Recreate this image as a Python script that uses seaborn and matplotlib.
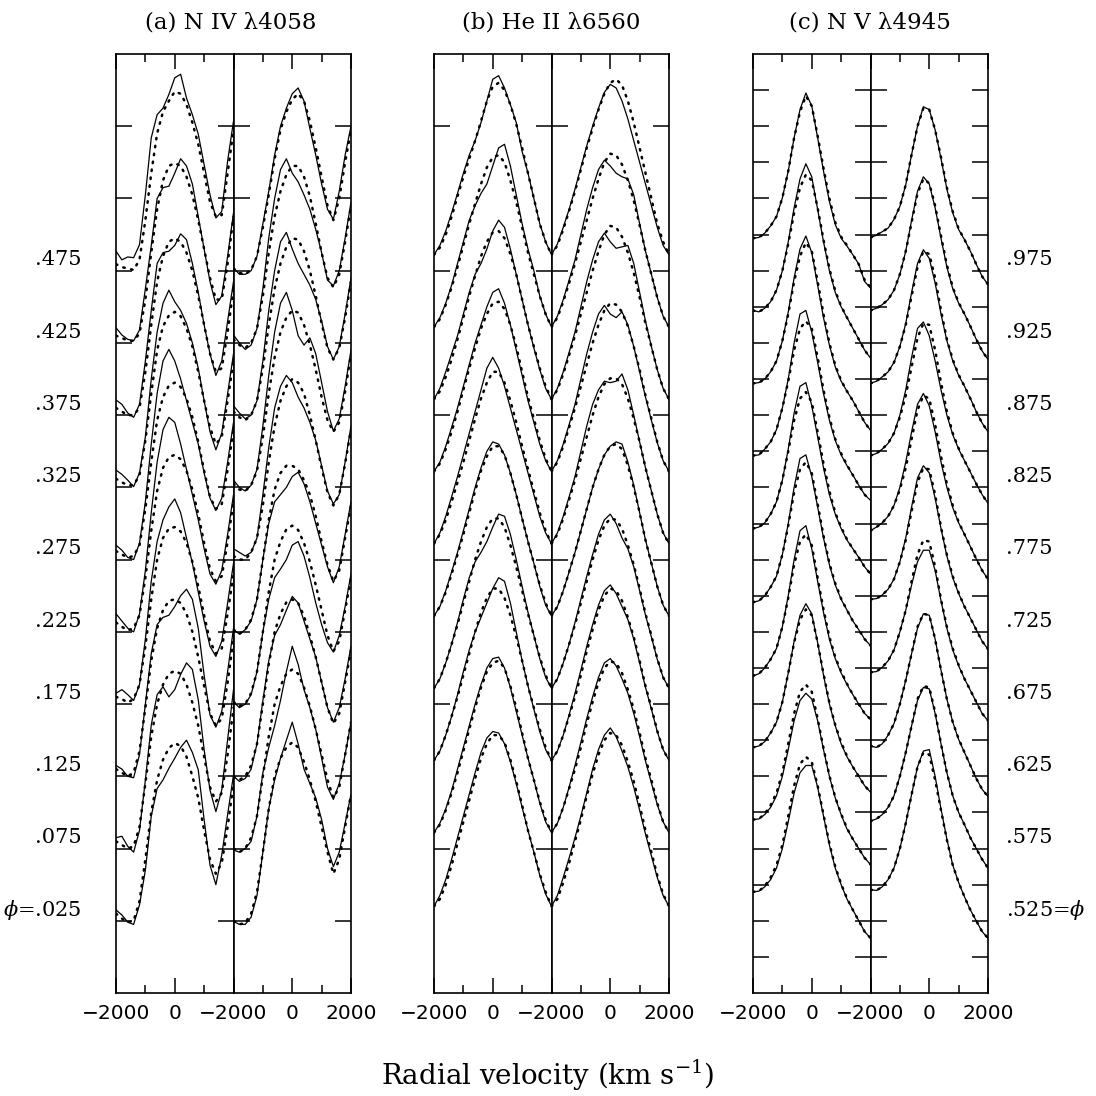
import numpy as np
import pandas as pd
import matplotlib
matplotlib.use("Agg")
import matplotlib.pyplot as plt
import seaborn as sns
from matplotlib.ticker import FixedLocator

# ---------------- data (profile heights above each spectrum's baseline) -------------
VELOCITY = [-2000, -1800, -1600, -1400, -1200, -1000, -800, -600, -400, -200, 0,
            200, 400, 600, 800, 1000, 1200, 1400, 1600, 1800, 2000]

PHASES_LEFT = [".025", ".075", ".125", ".175", ".225", ".275", ".325", ".375", ".425", ".475"]
PHASES_RIGHT = [".525", ".575", ".625", ".675", ".725", ".775", ".825", ".875", ".925", ".975"]

TITLES = ["(a) N IV λ4058", "(b) He II λ6560", "(c) N V λ4945"]
VEL_TICKS = [-2000, 0, 2000]
VEL_LABELS_LEFT = ["−2000", "0", ""]
VEL_LABELS_RIGHT = ["−2000", "0", "2000"]

# Panel (a) N IV 4058 -- left column (phases .025-.475), observed
A_L_OBS = [
    [0.0, -0.07, -0.17, -0.2, 0.07, 0.55, 1.3, 1.68, 1.8, 1.96, 2.1, 2.25, 2.35, 2.18, 1.94, 1.25, 0.62, 0.35, 0.76, 1.32, 1.87],
    [0.0, 0.02, -0.12, -0.2, 0.1, 0.8, 1.56, 1.98, 2.09, 1.95, 2.05, 2.26, 2.42, 2.33, 1.91, 1.22, 0.66, 0.36, 0.66, 1.36, 2.05],
    [0.0, -0.05, -0.15, -0.17, 0.15, 0.85, 1.55, 1.95, 2.05, 2.08, 2.2, 2.35, 2.44, 2.3, 1.9, 1.25, 0.7, 0.53, 0.75, 1.3, 1.9],
    [0.0, 0.05, -0.02, -0.1, 0.12, 0.75, 1.55, 2.1, 2.4, 2.58, 2.69, 2.5, 2.15, 1.8, 1.4, 1.0, 0.65, 0.51, 0.72, 1.25, 1.8],
    [0.1, 0.0, -0.1, -0.15, 0.1, 0.7, 1.5, 2.2, 2.65, 2.82, 2.75, 2.45, 2.1, 1.75, 1.4, 1.0, 0.65, 0.51, 0.7, 1.2, 1.75],
    [0.05, -0.02, -0.12, -0.15, 0.08, 0.65, 1.45, 2.15, 2.6, 2.76, 2.6, 2.35, 2.05, 1.75, 1.45, 1.05, 0.7, 0.53, 0.7, 1.2, 1.75],
    [0.09, 0.03, -0.05, -0.14, 0.05, 0.55, 1.35, 2.0, 2.4, 2.58, 2.42, 2.3, 2.12, 1.85, 1.5, 1.05, 0.62, 0.37, 0.6, 1.15, 1.7],
    [0.06, 0.0, -0.12, -0.18, 0.0, 0.6, 1.3, 1.95, 2.1, 2.12, 2.2, 2.36, 2.28, 1.95, 1.55, 1.1, 0.7, 0.4, 0.6, 1.15, 1.7],
    [0.06, -0.04, -0.1, -0.12, 0.03, 0.6, 1.2, 1.85, 2.0, 2.02, 2.2, 2.4, 2.3, 2.05, 1.6, 1.15, 0.7, 0.38, 0.5, 1.05, 1.65],
    [0.12, 0.0, 0.04, 0.03, 0.21, 0.9, 1.69, 2.01, 2.1, 2.29, 2.52, 2.57, 2.24, 2.01, 1.74, 1.32, 0.9, 0.58, 0.67, 1.37, 1.92],
]
A_L_MOD = [
    [-0.05, -0.12, -0.17, -0.15, 0.12, 0.7, 1.35, 1.8, 2.08, 2.24, 2.31, 2.27, 2.12, 1.85, 1.55, 1.1, 0.7, 0.5, 0.65, 1.15, 1.75],
    [-0.05, -0.1, -0.15, -0.12, 0.15, 0.75, 1.4, 1.85, 2.12, 2.27, 2.31, 2.27, 2.12, 1.87, 1.55, 1.12, 0.7, 0.5, 0.62, 1.15, 1.8],
    [-0.05, -0.1, -0.15, -0.1, 0.2, 0.8, 1.45, 1.9, 2.15, 2.28, 2.3, 2.25, 2.1, 1.85, 1.5, 1.1, 0.72, 0.55, 0.65, 1.15, 1.75],
    [-0.05, -0.08, -0.13, -0.08, 0.12, 0.65, 1.3, 1.85, 2.15, 2.28, 2.3, 2.24, 2.08, 1.82, 1.48, 1.08, 0.72, 0.55, 0.62, 1.1, 1.65],
    [-0.02, -0.08, -0.13, -0.1, 0.08, 0.6, 1.25, 1.8, 2.12, 2.27, 2.3, 2.24, 2.08, 1.82, 1.48, 1.08, 0.72, 0.55, 0.62, 1.1, 1.65],
    [-0.03, -0.08, -0.12, -0.1, 0.05, 0.55, 1.2, 1.78, 2.1, 2.26, 2.3, 2.24, 2.08, 1.82, 1.48, 1.08, 0.72, 0.55, 0.62, 1.1, 1.65],
    [-0.03, -0.08, -0.12, -0.12, 0.02, 0.5, 1.15, 1.75, 2.08, 2.23, 2.28, 2.22, 2.05, 1.8, 1.45, 1.05, 0.68, 0.45, 0.55, 1.05, 1.6],
    [-0.05, -0.1, -0.15, -0.15, -0.05, 0.45, 1.1, 1.7, 2.05, 2.25, 2.3, 2.25, 2.1, 1.85, 1.5, 1.1, 0.7, 0.45, 0.5, 1.0, 1.6],
    [-0.05, -0.08, -0.12, -0.12, -0.02, 0.45, 1.1, 1.7, 2.1, 2.3, 2.34, 2.3, 2.15, 1.9, 1.55, 1.15, 0.75, 0.45, 0.45, 0.95, 1.6],
    [-0.06, -0.1, -0.12, -0.14, 0.0, 0.55, 1.2, 1.75, 2.05, 2.2, 2.33, 2.3, 2.15, 1.9, 1.6, 1.2, 0.8, 0.6, 0.62, 1.2, 1.8],
]
# Panel (a) -- right column (phases .525-.975)
A_R_OBS = [
    [-0.16, -0.2, -0.2, -0.1, 0.2, 0.8, 1.4, 1.8, 2.1, 2.35, 2.6, 2.3, 1.95, 1.75, 1.55, 1.25, 0.85, 0.6, 0.8, 1.2, 1.6],
    [-0.17, -0.2, -0.15, -0.05, 0.3, 0.9, 1.25, 1.55, 1.9, 2.3, 2.65, 2.4, 2.05, 1.8, 1.5, 1.1, 0.7, 0.53, 0.75, 1.15, 1.6],
    [-0.15, -0.22, -0.18, -0.05, 0.3, 0.9, 1.45, 1.8, 1.95, 2.15, 2.34, 2.25, 2.0, 1.75, 1.5, 1.15, 0.8, 0.6, 0.8, 1.2, 1.65],
    [-0.12, -0.2, -0.15, -0.02, 0.3, 0.85, 1.3, 1.6, 1.72, 1.85, 2.05, 2.1, 1.9, 1.6, 1.25, 0.95, 0.7, 0.57, 0.8, 1.2, 1.65],
    [-0.12, -0.18, -0.12, 0.0, 0.3, 0.85, 1.35, 1.65, 1.75, 1.85, 2.0, 2.06, 1.9, 1.65, 1.35, 1.05, 0.75, 0.53, 0.75, 1.2, 1.65],
    [0.0, -0.05, -0.1, -0.05, 0.15, 0.75, 1.4, 1.95, 2.25, 2.4, 2.3, 2.1, 1.95, 1.75, 1.5, 1.15, 0.8, 0.62, 0.75, 1.2, 1.7],
    [-0.05, -0.15, -0.2, -0.12, 0.1, 0.7, 1.4, 2.0, 2.4, 2.55, 2.3, 1.95, 1.82, 1.92, 1.7, 1.3, 0.9, 0.63, 0.8, 1.25, 1.75],
    [-0.02, -0.12, -0.2, -0.15, 0.05, 0.6, 1.3, 1.85, 2.25, 2.38, 2.15, 1.95, 1.8, 1.65, 1.45, 1.15, 0.8, 0.62, 0.8, 1.25, 1.75],
    [-0.04, -0.15, -0.24, -0.18, 0.05, 0.6, 1.3, 1.85, 2.25, 2.4, 2.2, 2.08, 1.9, 1.7, 1.42, 1.1, 0.72, 0.64, 0.85, 1.3, 1.8],
    [-0.11, -0.2, -0.2, -0.15, 0.05, 0.5, 0.95, 1.45, 1.85, 2.1, 2.3, 2.38, 2.2, 1.82, 1.45, 1.05, 0.7, 0.56, 0.95, 1.45, 1.85],
]
A_R_MOD = [
    [-0.15, -0.2, -0.18, -0.05, 0.25, 0.8, 1.4, 1.85, 2.1, 2.25, 2.32, 2.25, 2.05, 1.8, 1.5, 1.15, 0.8, 0.5, 0.7, 1.15, 1.6],
    [-0.15, -0.2, -0.15, 0.0, 0.3, 0.85, 1.4, 1.85, 2.1, 2.27, 2.33, 2.27, 2.08, 1.82, 1.5, 1.15, 0.8, 0.55, 0.7, 1.15, 1.6],
    [-0.15, -0.2, -0.15, 0.0, 0.3, 0.85, 1.4, 1.85, 2.1, 2.26, 2.3, 2.25, 2.07, 1.8, 1.5, 1.15, 0.8, 0.58, 0.72, 1.15, 1.6],
    [-0.12, -0.18, -0.15, 0.0, 0.3, 0.85, 1.4, 1.85, 2.1, 2.27, 2.32, 2.26, 2.08, 1.82, 1.5, 1.15, 0.8, 0.58, 0.72, 1.15, 1.6],
    [-0.12, -0.18, -0.12, 0.02, 0.3, 0.85, 1.4, 1.82, 2.05, 2.15, 2.15, 2.1, 1.95, 1.75, 1.45, 1.1, 0.78, 0.55, 0.7, 1.15, 1.6],
    [-0.1, -0.15, -0.15, -0.05, 0.15, 0.6, 1.2, 1.7, 2.05, 2.25, 2.35, 2.3, 2.15, 1.85, 1.5, 1.12, 0.78, 0.6, 0.75, 1.18, 1.65],
    [-0.1, -0.18, -0.2, -0.12, 0.08, 0.55, 1.15, 1.65, 2.0, 2.2, 2.3, 2.27, 2.1, 1.82, 1.48, 1.1, 0.78, 0.62, 0.75, 1.18, 1.7],
    [-0.1, -0.18, -0.22, -0.15, 0.05, 0.5, 1.1, 1.6, 1.95, 2.18, 2.3, 2.28, 2.12, 1.85, 1.5, 1.12, 0.78, 0.62, 0.78, 1.2, 1.7],
    [-0.1, -0.18, -0.22, -0.15, 0.05, 0.5, 1.1, 1.6, 1.95, 2.18, 2.3, 2.3, 2.15, 1.88, 1.5, 1.1, 0.75, 0.62, 0.8, 1.25, 1.75],
    [-0.12, -0.18, -0.2, -0.14, 0.05, 0.45, 0.9, 1.4, 1.8, 2.05, 2.22, 2.3, 2.2, 1.92, 1.55, 1.15, 0.75, 0.55, 0.85, 1.35, 1.8],
]

# Panel (b) He II 6560 -- left column
B_L_OBS = [
    [0.05, 0.2, 0.42, 0.7, 1.0, 1.3, 1.6, 1.9, 2.18, 2.38, 2.47, 2.45, 2.3, 2.05, 1.75, 1.42, 1.1, 0.8, 0.48, 0.22, 0.05],
    [0.07, 0.2, 0.4, 0.65, 0.95, 1.25, 1.55, 1.85, 2.12, 2.35, 2.48, 2.5, 2.35, 2.08, 1.75, 1.42, 1.1, 0.8, 0.48, 0.22, 0.07],
    [0.07, 0.2, 0.42, 0.68, 0.98, 1.3, 1.6, 1.85, 2.05, 2.25, 2.45, 2.6, 2.55, 2.25, 1.85, 1.45, 1.1, 0.78, 0.47, 0.22, 0.07],
    [0.07, 0.2, 0.42, 0.68, 0.98, 1.3, 1.6, 1.82, 1.95, 2.1, 2.3, 2.48, 2.45, 2.2, 1.85, 1.48, 1.12, 0.8, 0.48, 0.22, 0.07],
    [0.07, 0.2, 0.42, 0.68, 0.95, 1.25, 1.55, 1.85, 2.12, 2.35, 2.48, 2.45, 2.3, 2.05, 1.75, 1.42, 1.1, 0.8, 0.48, 0.22, 0.07],
    [0.07, 0.22, 0.45, 0.72, 1.0, 1.3, 1.6, 1.9, 2.2, 2.5, 2.65, 2.5, 2.25, 1.95, 1.65, 1.35, 1.05, 0.75, 0.45, 0.22, 0.07],
    [0.07, 0.2, 0.42, 0.68, 0.95, 1.25, 1.55, 1.85, 2.1, 2.35, 2.55, 2.6, 2.4, 2.1, 1.75, 1.4, 1.05, 0.75, 0.45, 0.22, 0.07],
    [0.07, 0.22, 0.45, 0.7, 0.95, 1.25, 1.55, 1.8, 1.95, 2.15, 2.4, 2.55, 2.45, 2.15, 1.8, 1.45, 1.1, 0.78, 0.48, 0.22, 0.07],
    [0.07, 0.2, 0.4, 0.65, 0.95, 1.25, 1.55, 1.75, 1.92, 2.05, 2.3, 2.55, 2.6, 2.3, 1.9, 1.5, 1.15, 0.85, 0.5, 0.25, 0.07],
    [0.07, 0.2, 0.4, 0.65, 0.92, 1.2, 1.45, 1.65, 1.9, 2.2, 2.5, 2.55, 2.38, 2.15, 1.9, 1.5, 1.2, 0.85, 0.5, 0.25, 0.07],
]
B_L_MOD = [
    [0.05, 0.15, 0.35, 0.62, 0.92, 1.22, 1.52, 1.82, 2.1, 2.3, 2.42, 2.42, 2.32, 2.08, 1.78, 1.45, 1.1, 0.8, 0.5, 0.25, 0.05],
    [0.07, 0.18, 0.38, 0.62, 0.9, 1.2, 1.5, 1.8, 2.08, 2.3, 2.42, 2.45, 2.35, 2.1, 1.8, 1.45, 1.1, 0.8, 0.5, 0.25, 0.07],
    [0.07, 0.2, 0.42, 0.68, 0.95, 1.25, 1.55, 1.85, 2.12, 2.32, 2.45, 2.45, 2.32, 2.08, 1.78, 1.45, 1.1, 0.8, 0.5, 0.25, 0.07],
    [0.07, 0.2, 0.42, 0.68, 0.95, 1.25, 1.55, 1.85, 2.1, 2.3, 2.42, 2.42, 2.3, 2.05, 1.75, 1.42, 1.1, 0.8, 0.5, 0.25, 0.07],
    [0.07, 0.2, 0.4, 0.65, 0.92, 1.2, 1.5, 1.8, 2.08, 2.28, 2.42, 2.42, 2.3, 2.05, 1.75, 1.42, 1.1, 0.8, 0.5, 0.25, 0.07],
    [0.07, 0.2, 0.4, 0.65, 0.92, 1.2, 1.5, 1.8, 2.08, 2.3, 2.45, 2.45, 2.3, 2.05, 1.75, 1.42, 1.1, 0.8, 0.5, 0.25, 0.07],
    [0.07, 0.18, 0.38, 0.62, 0.9, 1.2, 1.5, 1.78, 2.05, 2.25, 2.4, 2.42, 2.32, 2.1, 1.8, 1.45, 1.1, 0.8, 0.5, 0.25, 0.07],
    [0.07, 0.18, 0.38, 0.62, 0.9, 1.2, 1.5, 1.78, 2.05, 2.25, 2.38, 2.4, 2.3, 2.08, 1.8, 1.45, 1.1, 0.8, 0.5, 0.25, 0.07],
    [0.07, 0.18, 0.38, 0.62, 0.9, 1.2, 1.5, 1.78, 2.05, 2.28, 2.42, 2.45, 2.35, 2.1, 1.8, 1.45, 1.1, 0.8, 0.5, 0.25, 0.07],
    [0.07, 0.17, 0.35, 0.6, 0.88, 1.15, 1.4, 1.65, 1.92, 2.2, 2.4, 2.45, 2.35, 2.15, 1.88, 1.55, 1.2, 0.85, 0.5, 0.25, 0.07],
]
# Panel (b) -- right column
B_R_OBS = [
    [0.05, 0.2, 0.45, 0.72, 1.0, 1.3, 1.62, 1.95, 2.22, 2.42, 2.52, 2.4, 2.2, 1.98, 1.7, 1.38, 1.05, 0.75, 0.45, 0.2, 0.05],
    [0.07, 0.2, 0.42, 0.7, 1.0, 1.32, 1.65, 1.95, 2.22, 2.42, 2.48, 2.38, 2.2, 2.0, 1.72, 1.4, 1.06, 0.76, 0.46, 0.22, 0.07],
    [0.07, 0.2, 0.42, 0.7, 1.0, 1.32, 1.65, 1.95, 2.22, 2.42, 2.5, 2.38, 2.2, 2.02, 1.75, 1.42, 1.08, 0.78, 0.47, 0.22, 0.07],
    [0.07, 0.2, 0.42, 0.68, 0.98, 1.3, 1.62, 1.92, 2.2, 2.4, 2.48, 2.35, 2.15, 2.0, 1.75, 1.42, 1.08, 0.78, 0.47, 0.22, 0.07],
    [0.07, 0.2, 0.42, 0.68, 0.95, 1.25, 1.55, 1.85, 2.1, 2.3, 2.42, 2.48, 2.45, 2.2, 1.88, 1.5, 1.12, 0.8, 0.48, 0.22, 0.07],
    [0.07, 0.22, 0.45, 0.72, 1.0, 1.35, 1.7, 2.0, 2.2, 2.32, 2.3, 2.32, 2.42, 2.2, 1.85, 1.48, 1.12, 0.8, 0.48, 0.22, 0.07],
    [0.07, 0.22, 0.45, 0.72, 1.0, 1.35, 1.7, 2.0, 2.25, 2.37, 2.25, 2.2, 2.28, 2.1, 1.8, 1.45, 1.1, 0.78, 0.47, 0.22, 0.07],
    [0.07, 0.22, 0.45, 0.72, 1.0, 1.35, 1.7, 2.0, 2.25, 2.37, 2.25, 2.16, 2.18, 2.2, 1.95, 1.55, 1.15, 0.8, 0.48, 0.22, 0.07],
    [0.07, 0.22, 0.45, 0.72, 1.0, 1.35, 1.7, 2.0, 2.25, 2.38, 2.3, 2.2, 2.15, 2.12, 1.9, 1.5, 1.12, 0.8, 0.48, 0.22, 0.07],
    [0.07, 0.22, 0.45, 0.7, 0.98, 1.28, 1.58, 1.85, 2.1, 2.32, 2.43, 2.38, 2.2, 1.95, 1.65, 1.35, 1.05, 0.75, 0.45, 0.2, 0.07],
]
B_R_MOD = [
    [0.05, 0.15, 0.38, 0.65, 0.95, 1.25, 1.58, 1.88, 2.15, 2.35, 2.45, 2.42, 2.28, 2.05, 1.78, 1.45, 1.1, 0.8, 0.48, 0.22, 0.05],
    [0.07, 0.2, 0.42, 0.68, 0.95, 1.25, 1.58, 1.88, 2.15, 2.35, 2.44, 2.42, 2.28, 2.05, 1.78, 1.45, 1.1, 0.8, 0.48, 0.22, 0.07],
    [0.07, 0.2, 0.42, 0.68, 0.95, 1.25, 1.58, 1.88, 2.15, 2.35, 2.45, 2.42, 2.28, 2.05, 1.78, 1.45, 1.1, 0.8, 0.48, 0.22, 0.07],
    [0.07, 0.2, 0.42, 0.68, 0.95, 1.25, 1.55, 1.85, 2.12, 2.32, 2.42, 2.4, 2.28, 2.05, 1.78, 1.45, 1.1, 0.8, 0.48, 0.22, 0.07],
    [0.07, 0.2, 0.42, 0.68, 0.95, 1.25, 1.55, 1.85, 2.1, 2.3, 2.42, 2.45, 2.38, 2.15, 1.85, 1.5, 1.12, 0.8, 0.48, 0.22, 0.07],
    [0.07, 0.2, 0.42, 0.68, 0.95, 1.25, 1.55, 1.85, 2.1, 2.28, 2.36, 2.36, 2.28, 2.08, 1.8, 1.48, 1.12, 0.8, 0.48, 0.22, 0.07],
    [0.07, 0.2, 0.42, 0.68, 0.95, 1.25, 1.55, 1.85, 2.1, 2.3, 2.4, 2.38, 2.28, 2.08, 1.8, 1.48, 1.12, 0.8, 0.48, 0.22, 0.07],
    [0.07, 0.2, 0.42, 0.68, 0.95, 1.25, 1.55, 1.85, 2.12, 2.35, 2.47, 2.45, 2.32, 2.1, 1.82, 1.48, 1.12, 0.8, 0.48, 0.22, 0.07],
    [0.07, 0.2, 0.42, 0.68, 0.95, 1.25, 1.55, 1.85, 2.12, 2.35, 2.47, 2.45, 2.32, 2.1, 1.82, 1.48, 1.12, 0.8, 0.48, 0.22, 0.07],
    [0.07, 0.2, 0.42, 0.68, 0.95, 1.25, 1.55, 1.82, 2.08, 2.3, 2.45, 2.5, 2.42, 2.2, 1.9, 1.55, 1.2, 0.85, 0.5, 0.25, 0.07],
]

# Panel (c) N V 4945 -- left column
C_L_OBS = [
    [0.25, 0.26, 0.32, 0.42, 0.58, 0.85, 1.22, 1.62, 1.9, 2.0, 2.0, 1.7, 1.3, 0.9, 0.58, 0.35, 0.15, 0.0, -0.15, -0.3, -0.39],
    [0.25, 0.26, 0.32, 0.42, 0.58, 0.85, 1.22, 1.62, 1.9, 2.0, 1.92, 1.62, 1.22, 0.85, 0.55, 0.32, 0.12, -0.02, -0.15, -0.28, -0.37],
    [0.25, 0.27, 0.33, 0.45, 0.6, 0.88, 1.28, 1.72, 2.08, 2.24, 2.1, 1.7, 1.25, 0.85, 0.55, 0.3, 0.12, -0.02, -0.15, -0.28, -0.37],
    [0.24, 0.27, 0.35, 0.47, 0.62, 0.92, 1.35, 1.85, 2.25, 2.32, 2.0, 1.55, 1.12, 0.75, 0.48, 0.28, 0.12, -0.02, -0.15, -0.28, -0.36],
    [0.26, 0.28, 0.35, 0.47, 0.62, 0.92, 1.35, 1.85, 2.25, 2.3, 2.0, 1.58, 1.15, 0.78, 0.5, 0.3, 0.15, 0.0, -0.12, -0.25, -0.34],
    [0.28, 0.3, 0.36, 0.48, 0.65, 0.95, 1.38, 1.88, 2.25, 2.3, 1.98, 1.55, 1.12, 0.75, 0.48, 0.28, 0.12, 0.0, -0.12, -0.25, -0.35],
    [0.29, 0.3, 0.38, 0.48, 0.65, 0.95, 1.35, 1.85, 2.25, 2.3, 2.0, 1.58, 1.15, 0.78, 0.5, 0.3, 0.15, 0.02, -0.12, -0.25, -0.33],
    [0.29, 0.3, 0.35, 0.45, 0.6, 0.88, 1.28, 1.75, 2.15, 2.33, 2.1, 1.65, 1.2, 0.82, 0.52, 0.32, 0.18, 0.05, -0.1, -0.25, -0.36],
    [0.3, 0.28, 0.33, 0.42, 0.58, 0.85, 1.25, 1.72, 2.12, 2.33, 2.15, 1.7, 1.25, 0.85, 0.55, 0.35, 0.2, 0.05, -0.1, -0.25, -0.36],
    [0.3, 0.31, 0.37, 0.47, 0.6, 0.86, 1.23, 1.69, 2.08, 2.31, 2.13, 1.69, 1.23, 0.81, 0.49, 0.3, 0.19, 0.07, -0.06, -0.3, -0.39],
]
C_L_MOD = [
    [0.25, 0.26, 0.33, 0.45, 0.62, 0.9, 1.3, 1.72, 2.02, 2.12, 2.05, 1.72, 1.32, 0.92, 0.6, 0.36, 0.16, 0.0, -0.15, -0.3, -0.39],
    [0.25, 0.26, 0.33, 0.45, 0.62, 0.9, 1.3, 1.72, 2.02, 2.12, 2.02, 1.65, 1.24, 0.86, 0.56, 0.33, 0.13, -0.02, -0.15, -0.28, -0.37],
    [0.25, 0.27, 0.33, 0.45, 0.6, 0.88, 1.28, 1.7, 2.02, 2.16, 2.08, 1.7, 1.27, 0.87, 0.56, 0.32, 0.13, -0.02, -0.15, -0.28, -0.37],
    [0.24, 0.27, 0.35, 0.47, 0.62, 0.92, 1.32, 1.78, 2.1, 2.2, 2.05, 1.6, 1.16, 0.78, 0.5, 0.3, 0.13, -0.02, -0.15, -0.28, -0.36],
    [0.26, 0.28, 0.35, 0.47, 0.62, 0.92, 1.32, 1.78, 2.1, 2.2, 2.05, 1.62, 1.18, 0.8, 0.52, 0.31, 0.15, 0.0, -0.12, -0.25, -0.34],
    [0.28, 0.3, 0.36, 0.48, 0.65, 0.95, 1.35, 1.78, 2.08, 2.17, 2.03, 1.62, 1.18, 0.8, 0.5, 0.3, 0.13, 0.0, -0.12, -0.25, -0.35],
    [0.29, 0.3, 0.38, 0.48, 0.65, 0.95, 1.32, 1.75, 2.05, 2.15, 2.05, 1.65, 1.2, 0.82, 0.52, 0.32, 0.16, 0.02, -0.12, -0.25, -0.33],
    [0.29, 0.3, 0.35, 0.45, 0.6, 0.88, 1.25, 1.7, 2.05, 2.24, 2.12, 1.7, 1.25, 0.85, 0.54, 0.33, 0.18, 0.05, -0.1, -0.25, -0.36],
    [0.3, 0.28, 0.33, 0.42, 0.58, 0.85, 1.22, 1.65, 2.0, 2.18, 2.1, 1.72, 1.28, 0.88, 0.57, 0.36, 0.2, 0.05, -0.1, -0.25, -0.36],
    [0.3, 0.31, 0.37, 0.47, 0.6, 0.86, 1.23, 1.69, 2.05, 2.27, 2.13, 1.72, 1.27, 0.85, 0.52, 0.32, 0.2, 0.07, -0.06, -0.28, -0.38],
]
# Panel (c) -- right column
C_R_OBS = [
    [0.28, 0.27, 0.32, 0.42, 0.58, 0.85, 1.2, 1.6, 1.98, 2.2, 2.22, 1.85, 1.4, 0.98, 0.62, 0.38, 0.18, 0.0, -0.15, -0.3, -0.39],
    [0.23, 0.26, 0.32, 0.42, 0.58, 0.85, 1.18, 1.55, 1.9, 2.08, 2.06, 1.72, 1.3, 0.9, 0.58, 0.35, 0.18, 0.0, -0.15, -0.3, -0.42],
    [0.27, 0.25, 0.3, 0.42, 0.58, 0.85, 1.18, 1.55, 1.9, 2.1, 2.08, 1.75, 1.32, 0.92, 0.6, 0.36, 0.18, 0.0, -0.18, -0.33, -0.43],
    [0.29, 0.3, 0.36, 0.45, 0.6, 0.85, 1.15, 1.5, 1.82, 1.98, 1.98, 1.7, 1.28, 0.9, 0.6, 0.38, 0.2, 0.04, -0.12, -0.28, -0.38],
    [0.3, 0.31, 0.36, 0.44, 0.58, 0.82, 1.15, 1.58, 1.98, 2.15, 2.05, 1.7, 1.28, 0.9, 0.6, 0.38, 0.2, 0.04, -0.12, -0.28, -0.39],
    [0.25, 0.3, 0.36, 0.45, 0.6, 0.85, 1.2, 1.62, 2.0, 2.15, 1.98, 1.62, 1.2, 0.85, 0.57, 0.36, 0.2, 0.03, -0.14, -0.3, -0.42],
    [0.29, 0.32, 0.38, 0.46, 0.6, 0.85, 1.2, 1.65, 2.05, 2.14, 1.95, 1.6, 1.2, 0.85, 0.58, 0.38, 0.22, 0.06, -0.1, -0.25, -0.37],
    [0.29, 0.32, 0.38, 0.45, 0.58, 0.8, 1.12, 1.55, 1.95, 2.14, 2.02, 1.68, 1.25, 0.88, 0.6, 0.4, 0.25, 0.08, -0.1, -0.26, -0.38],
    [0.3, 0.33, 0.38, 0.45, 0.58, 0.8, 1.12, 1.55, 1.95, 2.15, 2.05, 1.72, 1.3, 0.9, 0.6, 0.4, 0.25, 0.08, -0.1, -0.26, -0.38],
    [0.31, 0.34, 0.39, 0.44, 0.56, 0.74, 1.04, 1.46, 1.85, 2.12, 2.08, 1.8, 1.4, 0.98, 0.65, 0.42, 0.28, 0.12, -0.06, -0.23, -0.34],
]
C_R_MOD = [
    [0.28, 0.27, 0.32, 0.42, 0.58, 0.85, 1.2, 1.6, 1.98, 2.18, 2.15, 1.8, 1.38, 0.97, 0.62, 0.38, 0.18, 0.0, -0.15, -0.3, -0.39],
    [0.23, 0.26, 0.32, 0.42, 0.58, 0.85, 1.18, 1.55, 1.92, 2.1, 2.08, 1.74, 1.3, 0.9, 0.58, 0.35, 0.18, 0.0, -0.15, -0.3, -0.42],
    [0.27, 0.25, 0.3, 0.42, 0.58, 0.85, 1.18, 1.55, 1.92, 2.1, 2.08, 1.75, 1.32, 0.92, 0.6, 0.37, 0.18, 0.0, -0.18, -0.33, -0.43],
    [0.29, 0.3, 0.36, 0.45, 0.6, 0.85, 1.15, 1.55, 1.92, 2.12, 2.1, 1.75, 1.3, 0.92, 0.62, 0.39, 0.2, 0.04, -0.12, -0.28, -0.38],
    [0.3, 0.31, 0.36, 0.44, 0.58, 0.82, 1.12, 1.52, 1.92, 2.12, 2.1, 1.75, 1.3, 0.92, 0.62, 0.39, 0.2, 0.04, -0.12, -0.28, -0.39],
    [0.25, 0.3, 0.36, 0.45, 0.6, 0.82, 1.12, 1.52, 1.92, 2.12, 2.08, 1.72, 1.28, 0.9, 0.6, 0.37, 0.2, 0.03, -0.14, -0.3, -0.42],
    [0.29, 0.32, 0.38, 0.46, 0.6, 0.82, 1.12, 1.52, 1.92, 2.12, 2.1, 1.75, 1.3, 0.9, 0.6, 0.39, 0.22, 0.06, -0.1, -0.25, -0.37],
    [0.29, 0.32, 0.38, 0.45, 0.58, 0.8, 1.1, 1.5, 1.9, 2.12, 2.08, 1.75, 1.3, 0.9, 0.62, 0.41, 0.25, 0.08, -0.1, -0.26, -0.38],
    [0.3, 0.33, 0.38, 0.45, 0.58, 0.8, 1.12, 1.52, 1.92, 2.12, 2.06, 1.75, 1.33, 0.93, 0.62, 0.41, 0.25, 0.08, -0.1, -0.26, -0.38],
    [0.31, 0.34, 0.39, 0.44, 0.56, 0.74, 1.04, 1.46, 1.85, 2.1, 2.08, 1.8, 1.42, 1.0, 0.67, 0.43, 0.28, 0.12, -0.06, -0.23, -0.34],
]

PANELS = [
    (A_L_OBS, A_L_MOD, A_R_OBS, A_R_MOD),
    (B_L_OBS, B_L_MOD, B_R_OBS, B_R_MOD),
    (C_L_OBS, C_L_MOD, C_R_OBS, C_R_MOD),
]

# ---------------- layout / style ----------------
sns.set_theme(style="white")
plt.rcParams["font.family"] = ["DejaVu Serif", "DejaVu Sans"]
plt.rcParams["mathtext.fontset"] = "dejavuserif"
plt.rcParams["text.color"] = "black"
plt.rcParams["xtick.color"] = "black"
plt.rcParams["ytick.color"] = "black"
plt.rcParams["axes.labelcolor"] = "black"

W = 1096.0
fig = plt.figure(figsize=(10.96, 10.96), dpi=100)
fig.patch.set_facecolor("white")

PANEL_LEFT_PX = [116, 434, 753]
COL_W_PX = 117.5
AX_BOTTOM = 1 - 993 / W
AX_HEIGHT = (993 - 54) / W
Y_MAX = 13.0
BASE0 = 1.15
STEP = 1.0
YTICK_STEP = [1.0, 2.0, 0.5]
TITLE_X_PX = [231, 551, 870]

TICK_FONT = ["DejaVu Sans"]


def style_axis(ax, ystep, xlabels):
    ax.set_xlim(-2000, 2000)
    ax.set_ylim(0, Y_MAX)
    ax.set_facecolor("white")
    ax.set_xlabel("")
    ax.set_ylabel("")
    for s in ax.spines.values():
        s.set_visible(True)
        s.set_color("black")
        s.set_linewidth(1.2)
    ax.xaxis.set_major_locator(FixedLocator(VEL_TICKS))
    ax.xaxis.set_minor_locator(FixedLocator([-1000, 1000]))
    ax.set_xticklabels(xlabels)
    ax.set_yticks(np.arange(ystep, Y_MAX, ystep))
    ax.tick_params(axis="x", which="major", direction="in", top=True, bottom=True,
                   length=11, width=1.1, color="black", labelcolor="black",
                   labelsize=14.5, pad=8)
    ax.tick_params(axis="x", which="minor", direction="in", top=True, bottom=True,
                   length=5.5, width=1.1, color="black")
    ax.tick_params(axis="y", which="major", direction="in", left=True, right=True,
                   length=11.5, width=1.1, color="black", labelleft=False)
    for lab in ax.get_xticklabels():
        lab.set_fontfamily(TICK_FONT)


def draw_profiles(ax, obs, mod):
    for i, (o, m) in enumerate(zip(obs, mod)):
        base = BASE0 + STEP * i
        df = pd.DataFrame({"v": VELOCITY,
                           "obs": np.array(o) + base,
                           "mod": np.array(m) + base})
        sns.lineplot(data=df, x="v", y="mod", ax=ax, color="black", linewidth=1.8,
                     linestyle=(0, (0.6, 2.6)), dash_capstyle="round",
                     estimator=None, sort=False, legend=False)
        sns.lineplot(data=df, x="v", y="obs", ax=ax, color="black", linewidth=0.9,
                     estimator=None, sort=False, legend=False)


axes = []
for p, (lo, lm, ro, rm) in enumerate(PANELS):
    x0 = PANEL_LEFT_PX[p]
    axL = fig.add_axes([x0 / W, AX_BOTTOM, COL_W_PX / W, AX_HEIGHT])
    axR = fig.add_axes([(x0 + COL_W_PX) / W, AX_BOTTOM, COL_W_PX / W, AX_HEIGHT])
    draw_profiles(axL, lo, lm)
    draw_profiles(axR, ro, rm)
    style_axis(axL, YTICK_STEP[p], VEL_LABELS_LEFT)
    style_axis(axR, YTICK_STEP[p], VEL_LABELS_RIGHT)
    fig.text(TITLE_X_PX[p] / W, 1 - 22 / W, TITLES[p], ha="center", va="center",
             fontsize=16.5)
    axes.append((axL, axR))

# phase labels
axA = axes[0][0]
for i, ph in enumerate(PHASES_LEFT):
    txt = ph if i > 0 else r"$\phi$=" + ph
    axA.text(-0.29, BASE0 + STEP * i, txt, transform=axA.get_yaxis_transform(),
             ha="right", va="center", fontsize=15)
axC = axes[2][1]
for i, ph in enumerate(PHASES_RIGHT):
    txt = ph if i > 0 else ph + r"=$\phi$"
    axC.text(1.15, BASE0 + STEP * i, txt, transform=axC.get_yaxis_transform(),
             ha="left", va="center", fontsize=15)

fig.text(0.5, 1 - 1075 / W, "Radial velocity (km s$^{-1}$)", ha="center", va="center",
         fontsize=20)

fig.savefig("out.png", dpi=100, facecolor="white")
